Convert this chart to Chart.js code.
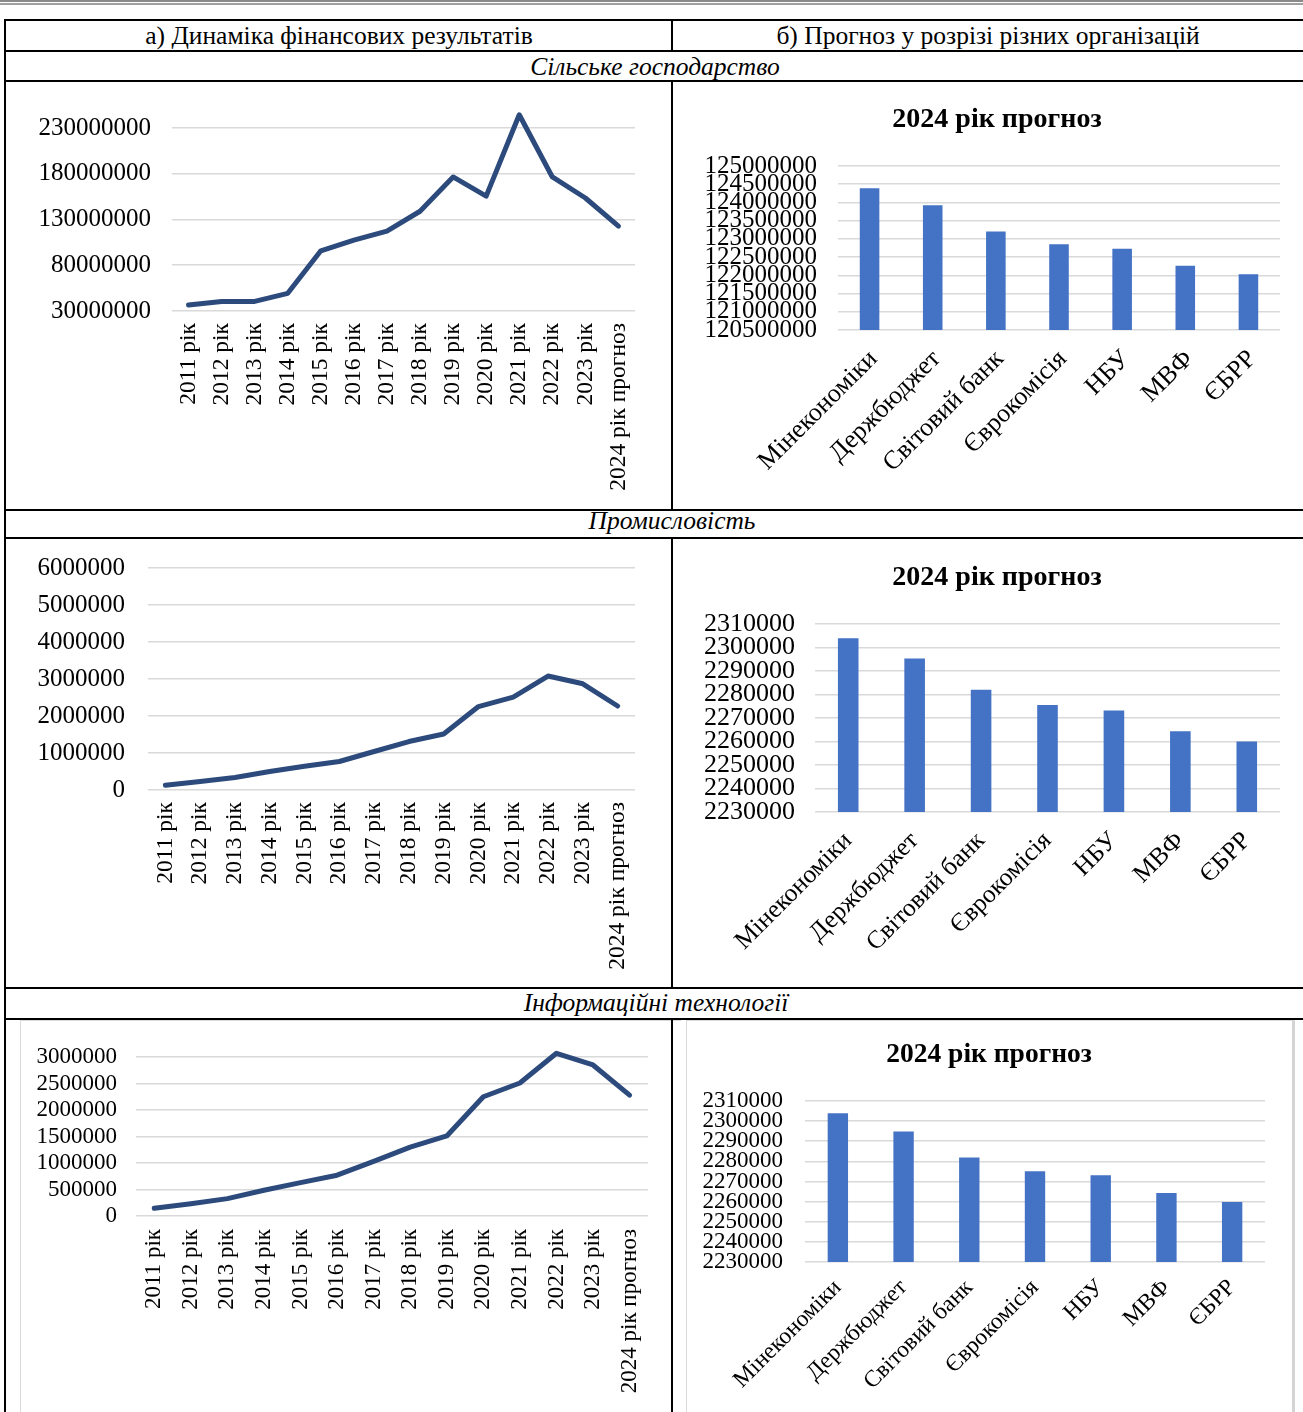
<!DOCTYPE html>
<html lang="uk">
<head>
<meta charset="utf-8">
<script src="https://cdn.jsdelivr.net/npm/chart.js@4.4.1/dist/chart.umd.min.js"></script>
<style>
  html, body { margin: 0; padding: 0; background: #fff; }
  body { width: 1303px; height: 1412px; position: relative; overflow: hidden; font-family: "Liberation Serif", "Times New Roman", serif; }
  .dbl { position: absolute; left: 0; right: 0; top: 0; height: 1px; border-top: 2px solid #8a8a8a; border-bottom: 2px solid #a0a0a0; }
  .hl { position: absolute; left: 5px; right: 0; height: 2px; background: #000; }
  .vl { position: absolute; width: 2px; background: #000; }
  .txt { position: absolute; font-size: 25.5px; line-height: 1; white-space: nowrap; transform: translate(-50%, -50%); color: #000; }
  .it { font-style: italic; }
  .box { position: absolute; }
  .frame { position: absolute; border: 1px solid #d9d9d9; }
</style>
</head>
<body>
<div class="dbl"></div>

<div class="hl" style="top:19px"></div>
<div class="hl" style="top:50px"></div>
<div class="hl" style="top:80px"></div>
<div class="hl" style="top:509px"></div>
<div class="hl" style="top:537px"></div>
<div class="hl" style="top:987px"></div>
<div class="hl" style="top:1018px"></div>

<div class="vl" style="left:4px; top:19px; height:1393px"></div>
<div class="vl" style="left:671px; top:19px; height:32px"></div>
<div class="vl" style="left:671px; top:80px; height:430px"></div>
<div class="vl" style="left:671px; top:537px; height:451px"></div>

<div class="frame" style="left:20px; top:1020px; width:660px; height:400px; border-right:none"></div>
<div class="frame" style="left:686px; top:1020px; width:605px; height:400px; border-right:3px solid #d4d4d4"></div>
<div class="vl" style="left:671px; top:1018px; height:394px"></div>

<div class="txt" style="left:339px; top:36px">а) Динаміка фінансових результатів</div>
<div class="txt" style="left:988px; top:36px">б) Прогноз у розрізі різних організацій</div>
<div class="txt it" style="left:655px; top:67px">Сільське господарство</div>
<div class="txt it" style="left:672px; top:521px">Промисловість</div>
<div class="txt it" style="left:656px; top:1003px">Інформаційні технології</div>

<div class="box" style="left:6px; top:83px; width:665px; height:425px"><canvas id="agri-line"></canvas></div>
<div class="box" style="left:674px; top:83px; width:629px; height:425px"><canvas id="agri-bar"></canvas></div>
<div class="box" style="left:6px; top:540px; width:665px; height:446px"><canvas id="industry-line"></canvas></div>
<div class="box" style="left:674px; top:540px; width:629px; height:446px"><canvas id="industry-bar"></canvas></div>
<div class="box" style="left:21px; top:1021px; width:650px; height:391px"><canvas id="it-line"></canvas></div>
<div class="box" style="left:687px; top:1021px; width:605px; height:391px"><canvas id="it-bar"></canvas></div>

<script>
const years = [
  "2011 рік", "2012 рік", "2013 рік", "2014 рік", "2015 рік", "2016 рік", "2017 рік",
  "2018 рік", "2019 рік", "2020 рік", "2021 рік", "2022 рік", "2023 рік", "2024 рік прогноз",
];
const agriResults = [
  36500000, 40500000, 40500000, 49300000, 95800000, 107500000, 117300000,
  139000000, 176500000, 155500000, 244500000, 176500000, 153500000, 122700000,
];
const industryResults = [
  127000, 230000, 340000, 500000, 640000, 770000, 1040000,
  1310000, 1515000, 2255000, 2510000, 3080000, 2870000, 2270000,
];
const itResults = [
  145000, 233000, 328000, 486000, 630000, 770000, 1030000,
  1300000, 1510000, 2250000, 2510000, 3070000, 2850000, 2280000,
];

const organizations = ["Мінекономіки", "Держбюджет", "Світовий банк", "Єврокомісія", "НБУ", "МВФ", "ЄБРР"];
const agriForecasts = [124390000, 123920000, 123200000, 122850000, 122730000, 122260000, 122030000];
const industryForecasts = [2303900, 2295300, 2282000, 2275500, 2273200, 2264400, 2260000];
const itForecasts = [2303900, 2294900, 2281900, 2275100, 2273100, 2264300, 2259800];
const forecastTitle = "2024 рік прогноз";

const agriLineTicks = [30000000, 80000000, 130000000, 180000000, 230000000];
const industryLineTicks = [0, 1000000, 2000000, 3000000, 4000000, 5000000, 6000000];
const itLineTicks = [0, 500000, 1000000, 1500000, 2000000, 2500000, 3000000];
const agriBarTicks = [
  120500000, 121000000, 121500000, 122000000, 122500000,
  123000000, 123500000, 124000000, 124500000, 125000000,
];
const forecastBarTicks = [2230000, 2240000, 2250000, 2260000, 2270000, 2280000, 2290000, 2300000, 2310000];

const serif = "'Liberation Serif', 'Times New Roman', serif";
const gridGray = "#d9d9d9";

function yScale(ticksList, cfg) {
  return {
    min: ticksList[0],
    max: ticksList[ticksList.length - 1],
    afterBuildTicks: (scale) => {
      scale.ticks = ticksList.map((value) => ({ value }));
    },
    afterFit: (scale) => {
      // fixed axis box; label overflow should not push the plot area
      scale.width = cfg.yWidth;
      scale.paddingTop = 0;
      scale.paddingBottom = 0;
    },
    grid: { color: gridGray, lineWidth: 1.6, drawTicks: false },
    border: { display: false },
    ticks: {
      color: "#000",
      autoSkip: false,
      padding: cfg.yPad,
      font: { family: serif, size: cfg.yFont },
      callback: (value) => String(value),
    },
  };
}

function xScale(cfg, rotation) {
  return {
    offset: true,
    afterFit: (scale) => {
      scale.height = cfg.xHeight;
      if (cfg.plotRight !== undefined) scale.paddingRight = cfg.plotRight;
    },
    grid: { display: false, drawTicks: false },
    border: { display: false },
    ticks: {
      color: "#000",
      autoSkip: false,
      minRotation: rotation,
      maxRotation: rotation,
      padding: cfg.xPad,
      labelOffset: cfg.xShift || 0,
      font: { family: serif, size: cfg.xFont },
    },
  };
}

function drawLine(canvasId, values, ticksList, cfg) {
  return new Chart(document.getElementById(canvasId), {
    type: "line",
    data: {
      labels: years,
      datasets: [
        {
          data: values,
          borderColor: "#2c4a7c",
          borderWidth: 5,
          borderJoinStyle: "round",
          borderCapStyle: "round",
          pointRadius: 0,
          tension: 0,
          clip: false,
        },
      ],
    },
    options: {
      responsive: true,
      maintainAspectRatio: false,
      animation: false,
      layout: { padding: cfg.padding },
      plugins: { legend: { display: false }, tooltip: { enabled: false } },
      scales: { x: xScale(cfg, 90), y: yScale(ticksList, cfg) },
    },
  });
}

function drawBars(canvasId, values, ticksList, cfg) {
  return new Chart(document.getElementById(canvasId), {
    type: "bar",
    data: {
      labels: organizations,
      datasets: [
        {
          data: values,
          backgroundColor: "#4472c4",
          barPercentage: 0.31,
          categoryPercentage: 1,
        },
      ],
    },
    options: {
      responsive: true,
      maintainAspectRatio: false,
      animation: false,
      layout: { padding: cfg.padding },
      plugins: {
        legend: { display: false },
        tooltip: { enabled: false },
        title: {
          display: true,
          text: forecastTitle,
          color: "#000",
          font: { family: serif, size: cfg.titleSize, weight: "bold" },
          padding: cfg.titlePadding,
        },
      },
      scales: { x: xScale(cfg, 45), y: yScale(ticksList, cfg) },
    },
  });
}

drawLine("agri-line", agriResults, agriLineTicks, {
  padding: { left: 0, right: 36, top: 45, bottom: 0 },
  yWidth: 166, xHeight: 197, yPad: 21, xPad: 12, yFont: 25, xFont: 23.5,
});
drawLine("industry-line", industryResults, industryLineTicks, {
  padding: { left: 0, right: 36, top: 28, bottom: 0 },
  yWidth: 142, xHeight: 196, yPad: 23, xPad: 12, yFont: 25, xFont: 23.5,
});
drawLine("it-line", itResults, itLineTicks, {
  padding: { left: 0, right: 23, top: 36, bottom: 0 },
  yWidth: 115, xHeight: 196, yPad: 19, xPad: 13, yFont: 23, xFont: 23,
});

drawBars("agri-bar", agriForecasts, agriBarTicks, {
  padding: { left: 29, right: 12, top: 0, bottom: 0 },
  plotRight: 23,
  titleSize: 28, titlePadding: { top: 20.2, bottom: 29.2 },
  yWidth: 135, xHeight: 178, yPad: 21, xPad: 14, xShift: 4, yFont: 25, xFont: 26,
});
drawBars("industry-bar", industryForecasts, forecastBarTicks, {
  padding: { left: 29, right: 12, top: 0, bottom: 0 },
  plotRight: 23,
  titleSize: 28, titlePadding: { top: 21.2, bottom: 29.2 },
  yWidth: 112, xHeight: 174, yPad: 20, xPad: 14, yFont: 26, xFont: 25.5,
});
drawBars("it-bar", itForecasts, forecastBarTicks, {
  padding: { left: 15, right: 16, top: 0, bottom: 0 },
  plotRight: 27,
  titleSize: 27.5, titlePadding: { top: 17.5, bottom: 29.5 },
  yWidth: 103, xHeight: 150, yPad: 22, xPad: 12, yFont: 23, xFont: 23.5,
});
</script>
</body>
</html>
